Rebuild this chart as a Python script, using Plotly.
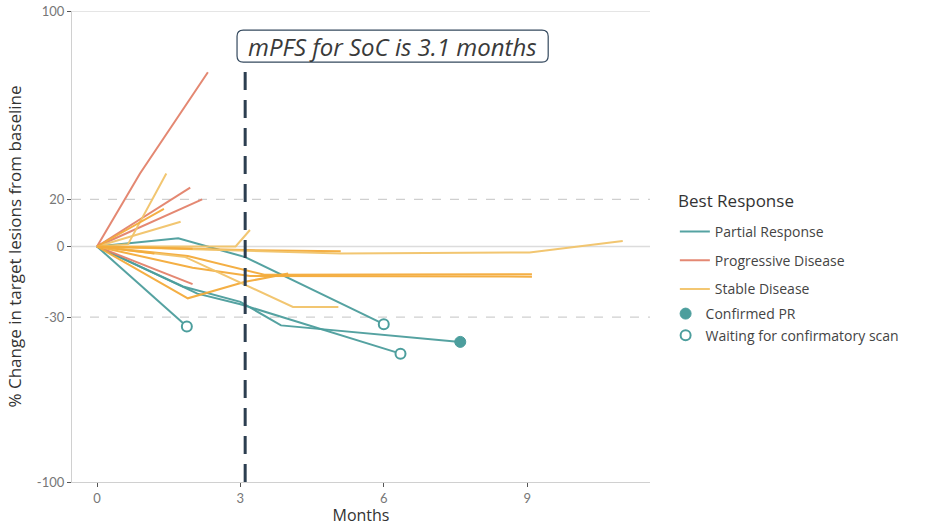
import plotly.graph_objects as go

# ---------------- data ----------------
pd_months = [[0, 0.9, 2.32], [0, 1.95], [0, 2.2], [0, 2.0]]
pd_change = [[0, 31, 74], [0, 25], [0, 20], [0, -16]]

sd_months = [
    [0, 0.65, 1.45], [0, 1.75], [0, 1.4], [0, 2.9, 3.2], [0, 3.1, 5.1],
    [0, 5.1, 9.05, 11.0], [0, 1.9, 3.5, 9.1], [0, 2.0, 3.2, 9.1],
    [0, 1.9, 3.1, 4.0], [0, 1.85, 4.1, 5.05], [0, 1.2], [0, 2.0],
]
sd_change = [
    [0, 1, 31], [0, 10.5], [0, 16], [0, 0, 7], [0, -1.5, -2],
    [0, -3, -2.5, 2.3], [0, -4, -12, -11.8], [0, -9, -12.5, -12.8],
    [0, -22, -15, -11.5], [0, -4.5, -25.7, -25.7], [0, -3], [0, -1],
]

pr_months = [[0, 1.7, 3.1, 6.0], [0, 1.88], [0, 1.8, 3.0, 3.85, 7.6], [0, 2.1, 3.0, 6.35]]
pr_change = [[0, 3.5, -4.5, -33], [0, -34], [0, -17, -23.5, -33.5, -40.5], [0, -20, -24.5, -45.5]]
pr_status = ["waiting", "waiting", "confirmed", "waiting"]

x_ticks = [0, 3, 6, 9]
y_ticks = [-100, -30, 0, 20, 100]
y_ticklabels = ["-100", "-30", "0", "20", "100"]
mpfs = 3.1

# ---------------- style ----------------
TEAL = "#4c9e9d"
SALMON = "#e3826b"
ORANGE = "#f4ab3a"
YELLOW = "#f2c46a"
sd_colors = [YELLOW, YELLOW, ORANGE, YELLOW, ORANGE, YELLOW, ORANGE, ORANGE,
             ORANGE, YELLOW, ORANGE, ORANGE]
SANS = "Open Sans"

fig = go.Figure()

groups = [
    ("Partial Response", pr_months, pr_change, [TEAL] * len(pr_months)),
    ("Progressive Disease", pd_months, pd_change, [SALMON] * len(pd_months)),
    ("Stable Disease", sd_months, sd_change, sd_colors),
]
for name, months, change, colors in groups:
    for i, (mx, cy) in enumerate(zip(months, change)):
        fig.add_trace(go.Scatter(
            x=mx, y=cy, mode="lines", name=name, legendgroup=name,
            showlegend=(i == 0), line=dict(color=colors[i], width=2),
            opacity=0.95, hoverinfo="skip", legend="legend",
        ))

# end markers
conf_x = [m[-1] for m, s in zip(pr_months, pr_status) if s == "confirmed"]
conf_y = [c[-1] for c, s in zip(pr_change, pr_status) if s == "confirmed"]
wait_x = [m[-1] for m, s in zip(pr_months, pr_status) if s == "waiting"]
wait_y = [c[-1] for c, s in zip(pr_change, pr_status) if s == "waiting"]
fig.add_trace(go.Scatter(
    x=conf_x, y=conf_y, mode="markers", name="Confirmed PR", legend="legend2",
    legendgroup="conf",
    marker=dict(color=TEAL, size=11, line=dict(color=TEAL, width=1)),
))
fig.add_trace(go.Scatter(
    x=wait_x, y=wait_y, mode="markers", name="Waiting for confirmatory scan", legend="legend2",
    legendgroup="wait",
    marker=dict(color="white", size=10, line=dict(color=TEAL, width=2)),
))

# gridlines
for yv, dash in [(100, "solid"), (20, "dash"), (0, "solid"), (-30, "dash")]:
    fig.add_shape(type="line", xref="paper", x0=0, x1=1, yref="y", y0=yv, y1=yv,
                  line=dict(color="#dcdcdc" if dash == "solid" else "#cfcfcf", width=1.3, dash=dash),
                  layer="below")

# annotation box (rounded) and dashed line
bx0, bx1, by0, by1 = 2.93, 9.44, 78.3, 91.9
rx, ry = 0.13, 2.6
path = (f"M {bx0+rx},{by0} L {bx1-rx},{by0} Q {bx1},{by0} {bx1},{by0+ry} "
        f"L {bx1},{by1-ry} Q {bx1},{by1} {bx1-rx},{by1} L {bx0+rx},{by1} "
        f"Q {bx0},{by1} {bx0},{by1-ry} L {bx0},{by0+ry} Q {bx0},{by0} {bx0+rx},{by0} Z")
fig.add_shape(type="path", path=path, xref="x", yref="y",
              line=dict(color="#34495e", width=1.2), fillcolor="white")
fig.add_shape(type="line", xref="x", yref="y", x0=mpfs, x1=mpfs, y0=-100, y1=by0,
              line=dict(color="#2c3e50", width=3, dash="18px,10px"))
fig.add_annotation(x=(bx0 + bx1) / 2, y=(by0 + by1) / 2, xref="x", yref="y",
                   text=f"<i>mPFS for SoC is {mpfs} months</i>", showarrow=False,
                   font=dict(family=SANS, size=24, color="#3a3a3a"))

# legend title
fig.add_annotation(x=1.045, y=(482 - 200) / 471, xref="paper", yref="paper",
                   xanchor="left", yanchor="middle", text="Best Response", showarrow=False,
                   font=dict(family=SANS, size=17, color="#333"))

fig.update_layout(
    width=925, height=526,
    margin=dict(l=72, r=275, t=11, b=44),
    plot_bgcolor="white", paper_bgcolor="white",
    font=dict(family="Lato", color="#444"),
    xaxis=dict(range=[-0.523, 11.57], tickvals=x_ticks, showgrid=False, zeroline=False,
               showline=True, linecolor="#d0d0d0", linewidth=1.3, automargin=False,
               ticks="outside", ticklen=4, tickcolor="#555", tickwidth=1.3,
               tickfont=dict(size=13, color="#777"),
               title=dict(text="Months", font=dict(family=SANS, size=16, color="#333"), standoff=4)),
    yaxis=dict(range=[-100, 100], tickvals=y_ticks, ticktext=y_ticklabels,
               showgrid=False, zeroline=False, automargin=False,
               showline=True, linecolor="#d0d0d0", linewidth=1.3,
               ticks="outside", ticklen=4, tickcolor="#555", tickwidth=1.3,
               tickfont=dict(size=13, color="#777"),
               title=dict(text="% Change in target lesions from baseline",
                          font=dict(family=SANS, size=17, color="#333"), standoff=10)),
    legend=dict(x=1.043, y=(482 - 216) / 471, xanchor="left", yanchor="top",
                font=dict(family=SANS, size=14, color="#444"), traceorder="grouped",
                tracegroupgap=7.5, bgcolor="rgba(0,0,0,0)"),
    legend2=dict(x=1.027, y=(482 - 298) / 471, xanchor="left", yanchor="top",
                 font=dict(family=SANS, size=14, color="#444"), traceorder="grouped",
                 tracegroupgap=0.5, bgcolor="rgba(0,0,0,0)"),
    showlegend=True,
)

fig.write_html("out.html", config={"displayModeBar": False},
               post_script="document.body.style.margin='0';")
